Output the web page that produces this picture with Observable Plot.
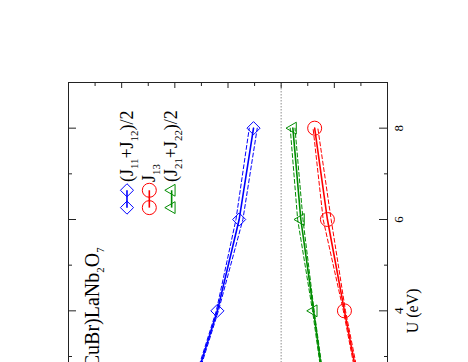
<!DOCTYPE html>
<html><head><meta charset="utf-8">
<script src="https://cdn.jsdelivr.net/npm/d3@7"></script>
<script src="https://cdn.jsdelivr.net/npm/@observablehq/plot@0.6"></script>
<style>html,body{margin:0;padding:0;background:#fff;overflow:hidden;width:468px;height:362px}</style>
</head><body><div id="chart"></div>
<script>
// U values (eV)
const U = [2, 4, 6, 8];
// series labels
const seriesNames = ["(J_{11}+J_{12})/2", "J_{13}", "(J_{21}+J_{22})/2"];
// averages (solid) and components (dashed)
const avgJ1 = [1.74, 1.20, 0.79, 0.52];
const j11 = [1.76, 1.22, 0.85, 0.60];
const j12 = [1.72, 1.18, 0.72, 0.45];
const avgJ13 = [-1.52, -1.19, -0.87, -0.63];
const j13a = [-1.50, -1.17, -0.79, -0.60];
const j13b = [-1.55, -1.21, -0.94, -0.69];
const avgJ2 = [-0.84, -0.61, -0.37, -0.22];
const j21 = [-0.83, -0.59, -0.31, -0.17];
const j22 = [-0.86, -0.62, -0.41, -0.26];
// ticks
const uMajorTicks = [0, 2, 4, 6, 8];
const uTickLabels = [4, 6, 8];
const uMinorTicks = [1, 3, 5, 7, 9];
const jMajorTicks = [-2, -1, 0, 1, 2, 3, 4];
const jMinorTicks = [-1.5, -0.5, 0.5, 1.5, 2.5, 3.5];
const titleText = "(CuBr)LaNb_{2}O_{7}";
const axisLabel = "U (eV)";

const colors = ["#0000ff", "#ff0000", "#008c00"];
const symbols = ["diamond2", "circle", "triangle"];
const radii = [5.9, 7, 4.4];
const rotations = [0, 0, -90];
const avgs = [avgJ1, avgJ13, avgJ2];
const compA = [j11, j13a, j21];
const compB = [j12, j13b, j22];

const rows = arr => U.map((u, k) => ({u, j: arr[k]}));

const marks = [];
marks.push(Plot.ruleX([0], {stroke: "#a8a8a8", strokeWidth: 1.3, strokeDasharray: "1.5,1.5"}));
avgs.forEach((a, i) => {
  marks.push(Plot.line(rows(compA[i]), {x: "j", y: "u", stroke: colors[i], strokeWidth: 1, strokeDasharray: "4,2.5"}));
  marks.push(Plot.line(rows(compB[i]), {x: "j", y: "u", stroke: colors[i], strokeWidth: 1, strokeDasharray: "4,2.5"}));
  marks.push(Plot.line(rows(a), {x: "j", y: "u", stroke: colors[i], strokeWidth: 1.6}));
  marks.push(Plot.dot(rows(a), {x: "j", y: "u", symbol: () => symbols[i], r: radii[i], stroke: colors[i], fill: "none", strokeWidth: 1, rotate: rotations[i]}));
});

// legend (placed in data space)
const leg = {x0: 2.9, step: -0.42, yA: 6.64, yB: 6.26, yText: 6.82};
const legendRows = seriesNames.map((name, i) => ({name, i, x: leg.x0 + i * leg.step}));
legendRows.forEach(d => {
  marks.push(Plot.link([d], {x1: "x", x2: "x", y1: () => leg.yA, y2: () => leg.yB, stroke: colors[d.i], strokeWidth: 1.6}));
  marks.push(Plot.dot([leg.yA, leg.yB], {x: () => d.x, y: v => v, symbol: () => symbols[d.i], r: radii[d.i], stroke: colors[d.i], fill: "none", strokeWidth: 1, rotate: rotations[d.i]}));
});
marks.push(Plot.text(legendRows, {x: "x", y: () => leg.yText, text: "name", rotate: -90, textAnchor: "start", lineAnchor: "middle", fontSize: 18, fill: "black"}));
marks.push(Plot.text([titleText], {x: () => 3.55, y: () => 5.39, text: d => d, rotate: -90, textAnchor: "end", lineAnchor: "middle", fontSize: 20, fill: "black"}));

// axes (inward ticks)
const ax = {tickFormat: () => "", stroke: "#222", label: null};
marks.push(Plot.axisX({...ax, anchor: "top", ticks: jMajorTicks, tickSize: -5}));
marks.push(Plot.axisX({...ax, anchor: "top", ticks: jMinorTicks, tickSize: -3}));
marks.push(Plot.axisY({...ax, anchor: "left", ticks: uMajorTicks, tickSize: -8}));
marks.push(Plot.axisY({...ax, anchor: "left", ticks: uMinorTicks, tickSize: -4}));
marks.push(Plot.axisY({...ax, anchor: "right", ticks: uMajorTicks, tickSize: -9}));
marks.push(Plot.axisY({...ax, anchor: "right", ticks: uMinorTicks, tickSize: -4}));
marks.push(Plot.text(uTickLabels, {y: d => d, text: d => String(d), frameAnchor: "right", dx: 11, rotate: -90, textAnchor: "middle", lineAnchor: "middle", fontSize: 13, fill: "black"}));
marks.push(Plot.text([{label: axisLabel, u: 4}], {y: "u", text: "label", frameAnchor: "right", dx: 25, rotate: -90, textAnchor: "middle", lineAnchor: "middle", fontSize: 16, fill: "black"}));
marks.push(Plot.frame({stroke: "#222", strokeWidth: 1}));

const chart = Plot.plot({
  width: 468,
  height: 540,
  marginLeft: 68,
  marginRight: 81,
  marginTop: 82,
  marginBottom: 47,
  x: {domain: [4, -2]},
  y: {domain: [0, 9]},
  style: {fontFamily: "'Liberation Serif', 'Times New Roman', serif", fontSize: "13px", background: "white", color: "black"},
  marks
});

// subscripts
const ns = "http://www.w3.org/2000/svg";
chart.querySelectorAll("text").forEach(t => {
  const s = t.textContent;
  if (!s.includes("_{")) return;
  const fs = parseFloat(t.getAttribute("font-size") || getComputedStyle(t).fontSize || 16);
  const subFs = fs * 0.68;
  const shift = fs * 0.3;
  t.textContent = "";
  const parts = s.split(/(_\{[^}]*\})/).filter(p => p);
  let shifted = false;
  for (const p of parts) {
    const ts = document.createElementNS(ns, "tspan");
    if (p.startsWith("_{")) {
      ts.textContent = p.slice(2, -1);
      ts.setAttribute("font-size", subFs);
      if (!shifted) { ts.setAttribute("dy", shift); shifted = true; }
    } else {
      ts.textContent = p;
      if (shifted) { ts.setAttribute("dy", -shift); shifted = false; }
    }
    t.appendChild(ts);
  }
});
document.getElementById("chart").appendChild(chart);
</script>
</body></html>
